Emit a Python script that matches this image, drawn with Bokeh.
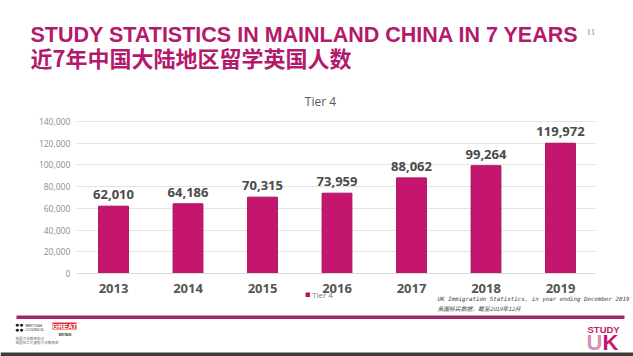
from bokeh.plotting import figure
from bokeh.models import (ColumnDataSource, LabelSet, Label, FixedTicker, NumeralTickFormatter,
                          Legend, LegendItem, BoxAnnotation, Range1d)
from bokeh.core.properties import value
from bokeh.embed import file_html
from bokeh.resources import INLINE

# ---- data ----
years = ["2013", "2014", "2015", "2016", "2017", "2018", "2019"]
students = [62010, 64186, 70315, 73959, 88062, 99264, 119972]
y_ticks = [0, 20000, 40000, 60000, 80000, 100000, 120000, 140000]
series_name = "Tier 4"
title_en = "STUDY STATISTICS IN MAINLAND CHINA IN 7 YEARS"
title_zh = "近7年中国大陆地区留学英国人数"
source_en = "UK Immigration Statistics, in year ending December 2019"
source_zh = "英国移民数据，截至2019年12月"
page_no = "11"

MAGENTA = "#c4166e"
TITLE_C = "#b31a6c"

x_idx = list(range(len(years)))
src = ColumnDataSource(dict(x=x_idx, year=years, students=students,
                            label=[f"{v:,}" for v in students]))

W, H = 633, 356
p = figure(x_range=Range1d(-1.517, 6.98), y_range=Range1d(-76447, 251447),
           width=W, height=H, output_backend="svg", toolbar_location=None,
           background_fill_color="white", border_fill_color="white")
p.min_border = 0
p.min_border_left = 0
p.min_border_right = 0
p.min_border_top = 0
p.min_border_bottom = 0
p.outline_line_color = None

r = p.vbar(x="x", top="students", width=0.4, source=src,
           fill_color=MAGENTA, line_color="#a5125d", line_width=1)

# y axis (placed at the left edge of the plotting area)
p.yaxis.fixed_location = -0.5
p.yaxis.ticker = FixedTicker(ticks=y_ticks)
p.yaxis.formatter = NumeralTickFormatter(format="0,0")
p.yaxis.axis_line_color = None
p.yaxis.major_tick_line_color = None
p.yaxis.minor_tick_line_color = None
p.yaxis.major_tick_in = 0
p.yaxis.major_tick_out = 0
p.yaxis.major_label_standoff = 6
p.yaxis.major_label_text_font = "Open Sans"
p.yaxis.major_label_text_font_size = "8.5px"
p.yaxis.major_label_text_color = "#8c8c8c"

# x axis at value 0
p.xaxis.fixed_location = 0
p.xaxis.bounds = (-0.5, 6.47)
p.xaxis.ticker = FixedTicker(ticks=x_idx)
p.xaxis.major_label_overrides = {i: y for i, y in zip(x_idx, years)}
p.xaxis.axis_line_color = "#d9d9d9"
p.xaxis.major_tick_line_color = None
p.xaxis.minor_tick_line_color = None
p.xaxis.major_tick_in = 0
p.xaxis.major_tick_out = 0
p.xaxis.major_label_standoff = 10
p.xaxis.major_label_text_font = "Open Sans"
p.xaxis.major_label_text_font_style = "bold"
p.xaxis.major_label_text_font_size = "13px"
p.xaxis.major_label_text_color = "#555555"

p.xgrid.visible = False
p.ygrid.ticker = FixedTicker(ticks=y_ticks)
p.ygrid.grid_line_color = "#e3e3e3"
try:
    p.ygrid.cross_bounds = (-0.5, 6.47)
except Exception:
    p.ygrid.visible = False
    p.yaxis.major_tick_line_color = "#e3e3e3"
    p.yaxis.major_tick_in = 518

# value labels
p.add_layout(LabelSet(x="x", y="students", text="label", source=src,
                      text_align="center", text_baseline="alphabetic", y_offset=7,
                      text_font=value("Open Sans"), text_font_style="bold",
                      text_font_size="13px", text_color="#4a4a4a"))

# legend
legend = Legend(items=[LegendItem(label=series_name, renderers=[r])],
                location=(305, 56), glyph_width=5, glyph_height=5,
                label_height=9, label_standoff=2, padding=0, margin=0, spacing=0,
                label_text_font="Open Sans", label_text_font_size="8px",
                label_text_color="#7a7a7a", background_fill_alpha=0,
                border_line_color=None)
p.add_layout(legend)


def txt(text, x, y, size, color, font="Liberation Sans", style="normal",
        align="left", baseline="alphabetic", **kw):
    p.add_layout(Label(x=x, y=y, x_units="canvas", y_units="canvas", text=text,
                       text_font=font, text_font_size=size, text_font_style=style,
                       text_color=color, text_align=align, text_baseline=baseline, **kw))


def box(l, r_, t, b, color):
    p.add_layout(BoxAnnotation(left=l, right=r_, top=t, bottom=b,
                               left_units="canvas", right_units="canvas",
                               top_units="canvas", bottom_units="canvas",
                               fill_color=color, fill_alpha=1, line_color=None,
                               level="overlay"))


# titles
txt(title_en, 30, 34, "21.5px", TITLE_C, style="bold")
txt(title_zh, 30, 56.5, "22px", TITLE_C, font="Noto Sans CJK SC", style="bold")
txt(page_no, 586, 31, "9px", "#8a8a8a", font="Liberation Serif")
txt(series_name, 320, 101, "12px", "#595959", font="Open Sans", align="center")

# source note
txt(source_en, 437, 298.5, "5.8px", "#444444", font="DejaVu Sans Mono", style="italic")
txt(source_zh, 437, 307.5, "5.8px", "#444444", font="Noto Sans CJK SC", style="italic")

# footer rule and bottom band
box(16, 624, 315, 318.5, "#a3276d")
box(0, 633, 352, 356, "#3b3b3b")

# British Council / GREAT marks
txt("●●", 14.5, 324, "7px", "#111111")
txt("●●", 14.5, 329, "7px", "#111111")
txt("BRITISH", 25, 324.8, "4.2px", "#333333")
txt("COUNCIL", 25, 329, "4.2px", "#333333")
txt("英国文化教育协会", 15, 337.5, "3.6px", "#666666", font="Noto Sans CJK SC")
txt("英国驻华大使馆文化教育处", 15, 342, "3.6px", "#666666", font="Noto Sans CJK SC")
txt("GREAT", 52, 322, "7px", "white", style="bold", baseline="top",
    background_fill_color="#e2313b")
txt("BRITAIN", 64.5, 334.7, "3.2px", "#333333", style="bold", align="center")

# Study UK mark
txt("STUDY", 587, 329, "9.5px", MAGENTA, style="bold")
txt("U", 586, 342, "22px", "#d690b4", style="bold")
txt("K", 602, 342, "22px", MAGENTA, style="bold")

open("out.html", "w").write(file_html(p, INLINE))
